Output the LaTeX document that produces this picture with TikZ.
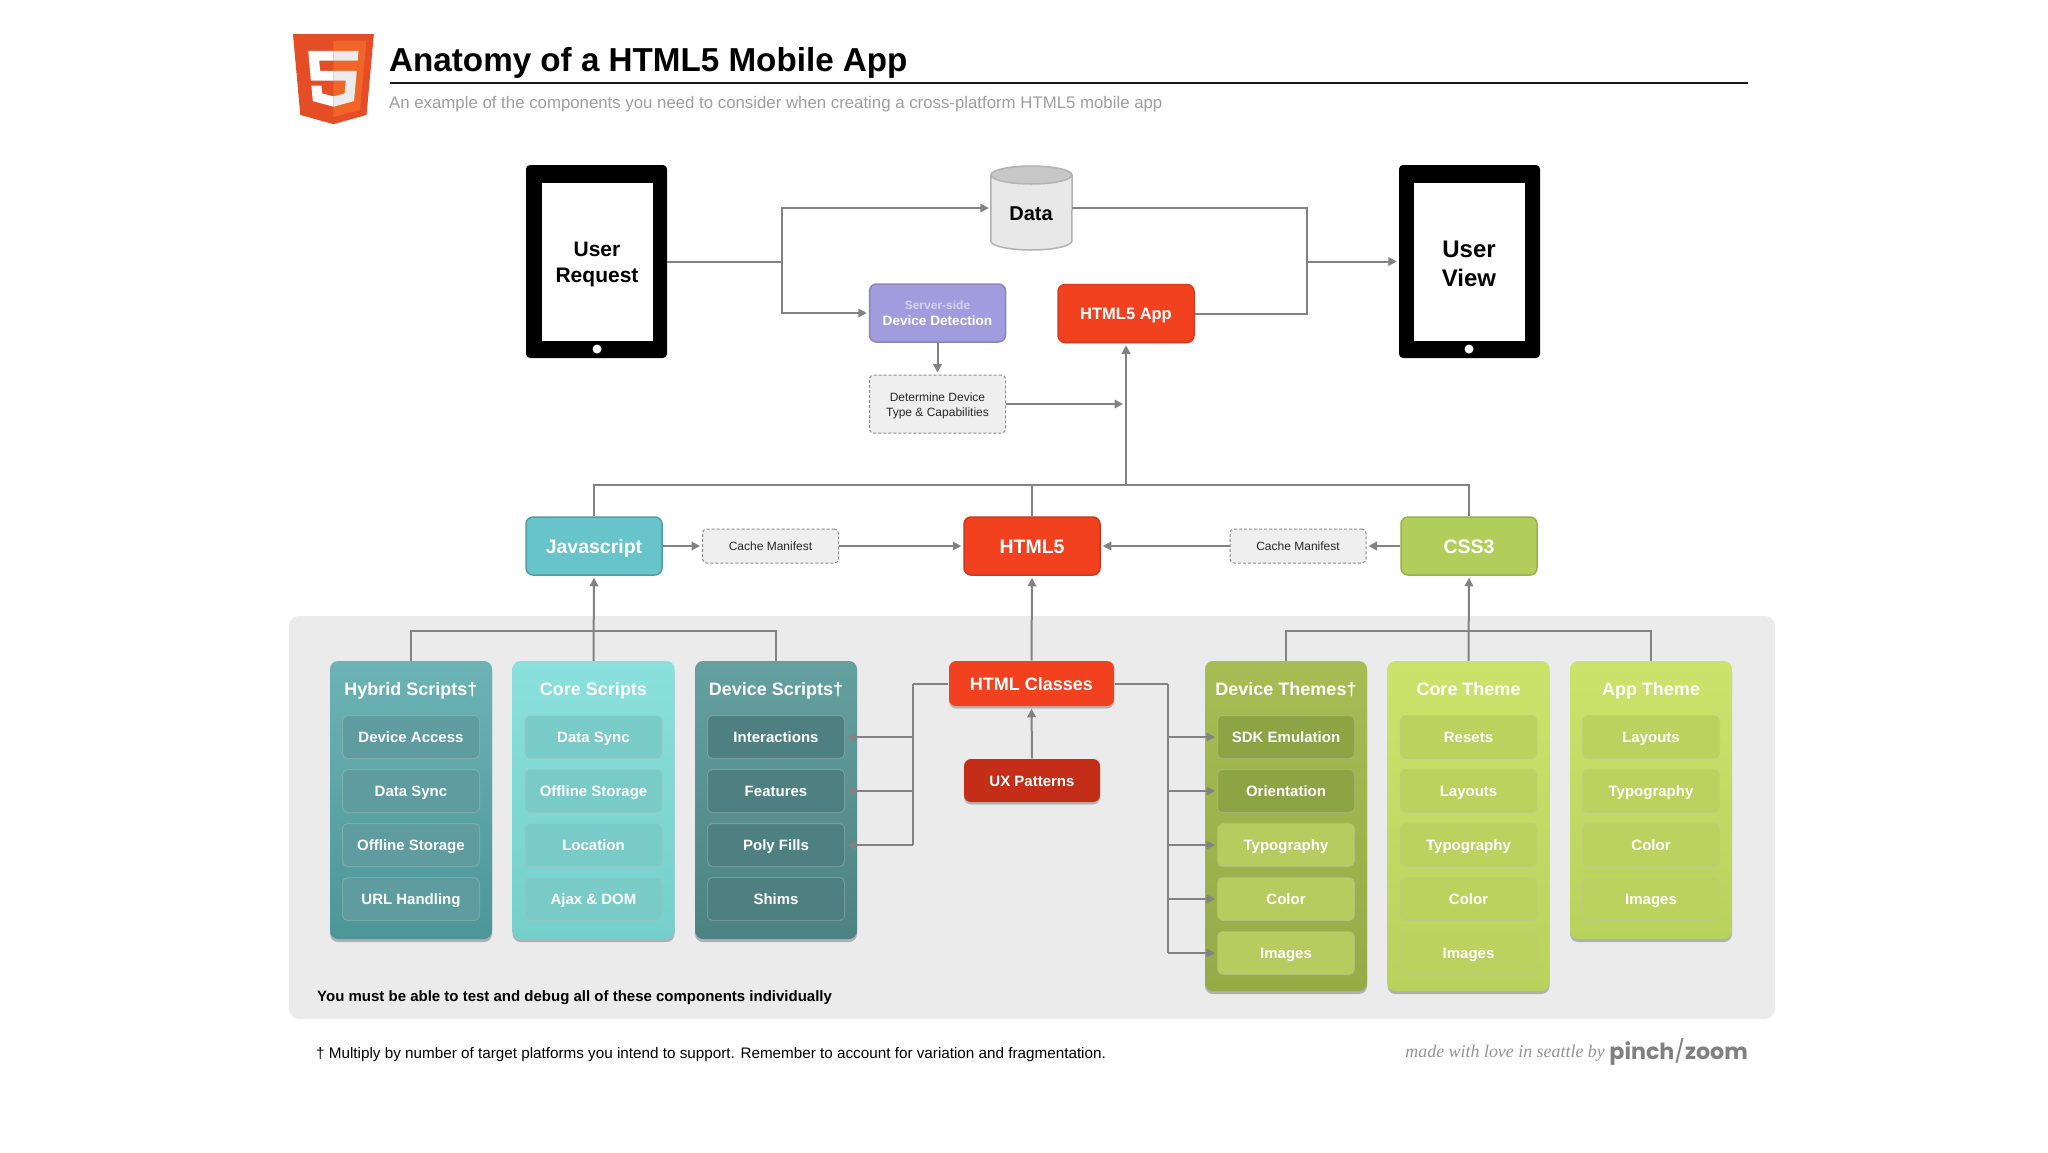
\documentclass[tikz,border=0pt]{standalone}
\usepackage{fontspec}
\setmainfont{Liberation Sans}
\newfontfamily\pzfont{Poppins}
\newfontfamily\lovefont{Liberation Serif}
\usetikzlibrary{arrows.meta,shadows}
\definecolor{lineGray}{HTML}{828283}
\definecolor{htmlRed}{HTML}{F1411F}
\definecolor{uxRed}{HTML}{C42E18}
\definecolor{jsTeal}{HTML}{66C4CA}
\definecolor{cssGreen}{HTML}{B2CE5A}
\definecolor{lavender}{HTML}{A19CDD}
\definecolor{panelGray}{HTML}{EBEBEC}
\definecolor{dashFill}{HTML}{EFEFEF}
\newcommand\fsz[2]{\fontsize{#1}{#2}\selectfont}
\newcommand\itm[5][]{\node[itembox,#1,fill=#2] (#3) at #4 {#5};}
\tikzset{
  x=1pt,y=-1pt,
  conn/.style={draw=lineGray,line width=2pt},
  arr/.style={conn,-{Triangle[length=8.5pt,width=8.5pt]},shorten >=2pt},
  capline/.style={text height=#1,text depth=0pt},
  tablet/.style={fill=black,rounded corners=4pt,minimum width=141pt,minimum height=193pt,inner sep=0pt},
  screen/.style={fill=white,minimum width=111pt,minimum height=158pt,inner sep=0pt},
  flatbox/.style={rounded corners=7pt,minimum width=136pt,minimum height=58pt,inner sep=0pt,align=center,text=white,line width=1.5pt,font=\bfseries},
  dashbox/.style={rounded corners=4pt,fill=dashFill,draw=black!45,densely dashed,line width=1pt,minimum width=136pt,inner sep=0pt,align=center,text=black!85},
  column/.style={rounded corners=8pt,minimum width=162pt,inner sep=0pt,drop shadow={shadow xshift=0pt,shadow yshift=-3pt,opacity=.55}},
  coltitle/.style={text=white,font=\fsz{18}{20}\bfseries,inner sep=0pt,capline=13pt},
  itembox/.style={rounded corners=5pt,minimum width=137pt,minimum height=43pt,inner sep=0pt,text=white,font=\fsz{15}{17}\bfseries,draw=black!25,draw opacity=.35,line width=1pt,capline=11pt},
}
\begin{document}
\begin{tikzpicture}
\useasboundingbox (0,0) rectangle (2048,1152);
\fill[white] (0,0) rectangle (2048,1152);

% logo
\begin{scope}[shift={(287.6,34)},x=0.179pt,y=-0.176pt]
\fill[fill={rgb,255:red,228;green,77;blue,38}] (30,0) -- (482,0) -- (441,460) -- (256,512) -- (71,460) -- cycle;
\fill[fill={rgb,255:red,241;green,101;blue,41}] (256,37) -- (440,37) -- (405,431) -- (256,472) -- cycle;
\fill[white] (256,208.8) -- (181.7,208.8) -- (176.6,151.3) -- (256,151.3) -- (256,95.2) -- (115.1,95.2) -- (130.2,264.9) -- (256,264.9) -- cycle;
\fill[white] (256,354.5) -- (193.2,337.7) -- (189.2,292.9) -- (132.8,292.9) -- (140.7,381.1) -- (255.8,413) -- (256,412.9) -- cycle;
\fill[black!8] (255.8,208.8) -- (255.8,264.9) -- (325,264.9) -- (318.5,337.8) -- (255.8,354.7) -- (255.8,413) -- (371,381.1) -- (386.5,208.8) -- cycle;
\fill[black!8] (255.8,95.2) -- (255.8,151.3) -- (391.6,151.3) -- (396.6,95.2) -- cycle;
\end{scope}

% heading
\node[anchor=west,inner sep=0pt,font=\fsz{33.2}{36}\bfseries] (title) at (389,62.5) {Anatomy of a HTML5 Mobile App};
\coordinate (ruleA) at (390,83);
\coordinate (ruleB) at (1748,83);
\draw[line width=2.6pt,black!90] (ruleA) -- (ruleB);
\node[anchor=west,inner sep=0pt,text=black!38,font=\fsz{16.8}{19}] (subtitle) at (389,104) {An example of the components you need to consider when creating a cross-platform HTML5 mobile app};

% panel
\fill[panelGray,rounded corners=10pt] (289,616) rectangle (1775,1019);

% top row
\node[tablet] (ureq) at (596.5,261.5) {};
\node[screen] (ureqS) at (597.5,262) {};
\node[align=center,inner sep=0pt,font=\fsz{21}{26}\bfseries] (ureqT) at (597,264.5) {User\\Request};
\fill[white] (597,349) circle (4.5);
\node[tablet] (uview) at (1469.5,261.5) {};
\node[screen] (uviewS) at (1469.5,262) {};
\node[align=center,inner sep=0pt,font=\fsz{24}{29}\bfseries] (uviewT) at (1469,263.5) {User\\View};
\fill[white] (1469,349) circle (4.5);

% data store
\node[minimum width=81pt,minimum height=84pt,inner sep=0pt] (data) at (1031.5,208) {};
\draw[draw=black!30,line width=1.5pt,fill=black!9] (data.west |- 0,175) -- (data.west |- 0,241) arc[start angle=180,end angle=0,x radius=40.5,y radius=9] -- (data.east |- 0,175);
\draw[draw=black!30,line width=1.5pt,fill=black!22] (data.north |- 0,175) ellipse[x radius=40.5,y radius=9];
\node[inner sep=0pt,font=\fsz{20}{22}\bfseries,capline=14pt] (dataT) at (1031,213) {Data};

\node[flatbox,fill=lavender,draw=lavender!85!black,font=\fsz{13.6}{16}\bfseries] (server) at (937.5,313) {{\fsz{12}{16}\color{lavender!45!white}Server-side}\\{\fsz{13.6}{16}Device Detection}};
\node[flatbox,fill=htmlRed,draw=htmlRed!90!black,font=\fsz{16.5}{18}\bfseries,capline=12pt] (app) at (1126,313.5) {HTML5 App};
\node[dashbox,minimum height=58pt] (determine) at (937.5,404) {};
\node[align=center,inner sep=0pt,text=black!85,font=\fsz{12}{15}] (determineT) at (937.5,405.5) {Determine Device\\Type \& Capabilities};

% middle row
\node[flatbox,fill=jsTeal,draw=jsTeal!80!black,font=\fsz{19.5}{22}\bfseries,capline=14pt] (js) at (594,546) {Javascript};
\node[dashbox,minimum height=34pt,font=\fsz{12}{14},capline=9pt] (cacheL) at (770.5,546) {Cache Manifest};
\node[flatbox,fill=htmlRed,draw=htmlRed!85!black,font=\fsz{19.5}{22}\bfseries,capline=14pt] (html) at (1032,546) {HTML5};
\node[dashbox,minimum height=34pt,font=\fsz{12}{14},capline=9pt] (cacheR) at (1298,546) {Cache Manifest};
\node[flatbox,fill=cssGreen,draw=cssGreen!85!black,font=\fsz{19.5}{22}\bfseries,capline=14pt] (css) at (1469,546) {CSS3};

% html classes
\node[flatbox,minimum width=165pt,minimum height=45pt,top color=htmlRed,bottom color=htmlRed,font=\fsz{18}{20}\bfseries,capline=13pt,drop shadow={shadow xshift=0pt,shadow yshift=-2.5pt,opacity=.5}] (classes) at (1031.5,683.5) {HTML Classes};
\node[flatbox,minimum width=136pt,minimum height=43pt,top color=uxRed,bottom color=uxRed,font=\fsz{15}{17}\bfseries,capline=11pt,drop shadow={shadow xshift=0pt,shadow yshift=-2.5pt,opacity=.5}] (ux) at (1032,780.5) {UX Patterns};

% columns
\node[column,minimum height=278pt,top color={rgb,255:red,108;green,179;blue,181},bottom color={rgb,255:red,76;green,150;blue,152}] (hybrid) at (411,800) {};
\node[column,minimum height=278pt,top color={rgb,255:red,138;green,224;blue,220},bottom color={rgb,255:red,116;green,207;blue,203}] (core) at (593.5,800) {};
\node[column,minimum height=278pt,top color={rgb,255:red,101;green,160;blue,160},bottom color={rgb,255:red,76;green,130;blue,130}] (device) at (776,800) {};
\node[column,minimum height=330pt,top color={rgb,255:red,168;green,188;blue,84},bottom color={rgb,255:red,150;green,170;blue,70}] (dthemes) at (1286,826) {};
\node[column,minimum height=330pt,top color={rgb,255:red,204;green,227;blue,107},bottom color={rgb,255:red,185;green,210;blue,93}] (cthemes) at (1468.5,826) {};
\node[column,minimum height=278pt,top color={rgb,255:red,204;green,227;blue,107},bottom color={rgb,255:red,185;green,210;blue,93}] (athemes) at (1651,800) {};

\node[coltitle] (hybridT) at (411,689) {Hybrid Scripts†};
\node[coltitle] (coreT) at (593.5,689) {Core Scripts};
\node[coltitle] (deviceT) at (776,689) {Device Scripts†};
\node[coltitle] (dthemesT) at (1286,689) {Device Themes†};
\node[coltitle] (cthemesT) at (1468.5,689) {Core Theme};
\node[coltitle] (athemesT) at (1651,689) {App Theme};

\definecolor{hy}{HTML}{5E9C9F}
\definecolor{co}{HTML}{79CBC8}
\definecolor{de}{HTML}{4F8081}
\definecolor{dk}{HTML}{8DA445}
\definecolor{lt}{HTML}{B6CC5F}
\definecolor{ct}{HTML}{BBD25F}
\itm{hy}{h1}{(411,737)}{Device Access}
\itm{hy}{h2}{(411,791)}{Data Sync}
\itm{hy}{h3}{(411,845)}{Offline Storage}
\itm{hy}{h4}{(411,899)}{URL Handling}
\itm{co}{c1}{(593.5,737)}{Data Sync}
\itm{co}{c2}{(593.5,791)}{Offline Storage}
\itm{co}{c3}{(593.5,845)}{Location}
\itm{co}{c4}{(593.5,899)}{Ajax \& DOM}
\itm{de}{d1}{(776,737)}{Interactions}
\itm{de}{d2}{(776,791)}{Features}
\itm{de}{d3}{(776,845)}{Poly Fills}
\itm{de}{d4}{(776,899)}{Shims}
\itm{dk}{t1}{(1286,737)}{SDK Emulation}
\itm{dk}{t2}{(1286,791)}{Orientation}
\itm{lt}{t3}{(1286,845)}{Typography}
\itm{lt}{t4}{(1286,899)}{Color}
\itm{lt}{t5}{(1286,953)}{Images}
\itm{ct}{m1}{(1468.5,737)}{Resets}
\itm{ct}{m2}{(1468.5,791)}{Layouts}
\itm{ct}{m3}{(1468.5,845)}{Typography}
\itm{ct}{m4}{(1468.5,899)}{Color}
\itm{ct}{m5}{(1468.5,953)}{Images}
\itm{ct}{a1}{(1651,737)}{Layouts}
\itm{ct}{a2}{(1651,791)}{Typography}
\itm{ct}{a3}{(1651,845)}{Color}
\itm{ct}{a4}{(1651,899)}{Images}

% free coordinates of connector junctions
\coordinate (splitL) at (782,261.5);
\coordinate (splitR) at (1307,261.5);
\coordinate (bus) at (1032,485);
\coordinate (trunk) at (1126,485);
\coordinate (jsBus) at (593.5,631);
\coordinate (cssBus) at (1468.5,631);
\coordinate (busL) at (913,683.5);
\coordinate (busR) at (1168,683.5);

% connectors
\draw[conn] (ureq.east) -- (splitL);
\draw[arr] (splitL) |- (data.west);
\draw[arr] (splitL) |- (server.west);
\draw[conn] (data.east) -| (splitR);
\draw[conn] (app.east) -| (splitR);
\draw[arr] (splitR) -- (uview.west);
\draw[arr] (server.south) -- (determine.north);
\draw[arr,shorten >=3pt] (determine.east) -- (determine.east -| trunk);
\draw[arr] (trunk) -- (app.south);
\draw[conn] (js.north) |- (bus);
\draw[conn] (css.north) |- (bus);
\draw[conn] (html.north) -- (bus);
\draw[arr] (js.east) -- (cacheL.west);
\draw[arr] (cacheL.east) -- (html.west);
\draw[arr] (cacheR.west) -- (html.east);
\draw[arr] (css.west) -- (cacheR.east);
\draw[arr] (core.north) -- (js.south);
\draw[conn] (hybrid.north) |- (jsBus);
\draw[conn] (device.north) |- (jsBus);
\draw[arr] (cthemes.north) -- (css.south);
\draw[conn] (dthemes.north) |- (cssBus);
\draw[conn] (athemes.north) |- (cssBus);
\draw[arr] (classes.north) -- (html.south);
\draw[arr] (ux.north) -- (classes.south);
\draw[conn] (classes.west) -- (busL);
\draw[conn] (busL) -- (busL |- d3.east);
\draw[arr] (busL |- d1.east) -- (d1.east);
\draw[arr] (busL |- d2.east) -- (d2.east);
\draw[arr] (busL |- d3.east) -- (d3.east);
\draw[conn] (classes.east) -- (busR);
\draw[conn] (busR) -- (busR |- t5.west);
\draw[arr] (busR |- t1.west) -- (t1.west);
\draw[arr] (busR |- t2.west) -- (t2.west);
\draw[arr] (busR |- t3.west) -- (t3.west);
\draw[arr] (busR |- t4.west) -- (t4.west);
\draw[arr] (busR |- t5.west) -- (t5.west);

% notes
\node[anchor=west,inner sep=0pt,font=\fsz{15}{17}\bfseries] (must) at (317,998) {You must be able to test and debug all of these components individually};
\node[anchor=west,inner sep=0pt,font=\fsz{15.25}{17}] (dagger) at (316,1054.5) {† Multiply by number of target platforms you intend to support. Remember to account for variation and fragmentation.};
\node[anchor=east,inner sep=0pt,text=black!42,font=\fsz{17.9}{20}\lovefont\itshape] (love) at (1605,1053) {made with love in seattle by};
\node[anchor=east,inner sep=0pt,text=black!50,font=\fsz{22.2}{25}\pzfont\bfseries] (pinch) at (1748,1052) {pinch{\mdseries/}zoom};
\end{tikzpicture}
\end{document}
